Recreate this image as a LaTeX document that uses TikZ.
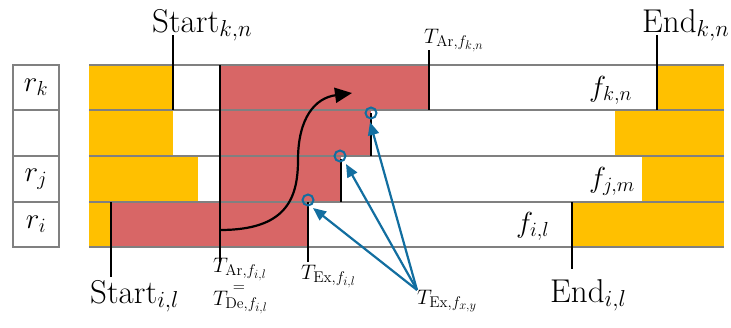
\documentclass[tikz,border=0pt]{standalone}
\usepackage{fix-cm}
\usetikzlibrary{arrows.meta}
\DeclareMathSizes{21}{21}{15.5}{12.5}
\definecolor{flowred}{RGB}{216,102,102}
\definecolor{busyyellow}{RGB}{255,192,0}
\definecolor{rowgray}{RGB}{128,128,128}
\definecolor{exblue}{RGB}{18,110,160}
\begin{document}
\begin{tikzpicture}[x=1pt,y=-1pt,
    grid/.style={draw=rowgray,line width=2pt},
    tick/.style={line width=2.4pt},
    big/.style={font=\fontsize{29}{30}\selectfont,inner sep=0pt},
    huge/.style={font=\fontsize{33}{36}\selectfont,inner sep=0pt},
    small/.style={font=\fontsize{21}{12}\selectfont,inner sep=0pt},
    pointer/.style={draw=exblue,line width=2.2pt,-{Triangle[length=13pt,width=11pt]}},
    ring/.style={draw=exblue,line width=2pt}]
    \useasboundingbox (0,0) rectangle (731,327);

    % belegung der ressourcen
    \foreach \ya/\yb/\ye/\ra/\rb/\yc in {65/110/173/220/429/657, 110/156/173/220/371/615,
        156/202/198/220/341/642, 202/247/111/111/308/572} {
        \fill[busyyellow] (89,\ya) rectangle (\ye,\yb);
        \fill[flowred] (\ra,\ya) rectangle (\rb,\yb);
        \fill[busyyellow] (\yc,\ya) rectangle (724,\yb);
    }

    % zeilen
    \foreach \y in {65,110,156,202,247}
        \draw[grid] (89,\y) -- (724,\y);

    % ressourcen links
    \foreach \ya/\yb/\lab/\name in {65/110/r_k/rk, 110/156/{}/rx, 156/202/r_j/rj, 202/247/r_i/ri}
        \draw[grid] (13,\ya) rectangle (59,\yb) node[midway,big] (\name) {$\lab$};

    % zeitpunkte oben
    \coordinate (skTop) at (173,35); \coordinate (skBot) at (173,110);
    \coordinate (ekTop) at (657,35); \coordinate (ekBot) at (657,110);
    \coordinate (akTop) at (429,50); \coordinate (akBot) at (429,110);
    \draw[tick] (skTop) -- (skBot);
    \draw[tick] (ekTop) -- (ekBot);
    \draw[tick] (akTop) -- (akBot);
    \node[huge,anchor=base west] (startk) at (152,32) {Start$_{k,n}$};
    \node[huge,anchor=base west] (endk) at (642,32) {End$_{k,n}$};
    \node[small,anchor=base west] (arrk) at (424,43) {$T_{\mathrm{Ar},f_{k,n}}$};

    % zeitpunkte unten
    \coordinate (aiTop) at (220,65); \coordinate (aiBot) at (220,262);
    \coordinate (siTop) at (111,202); \coordinate (siBot) at (111,277);
    \coordinate (xiTop) at (308,202); \coordinate (xiBot) at (308,262);
    \coordinate (eiTop) at (572,202); \coordinate (eiBot) at (572,269);
    \draw[tick] (aiTop) -- (aiBot);
    \draw[tick] (siTop) -- (siBot);
    \draw[tick] (xiTop) -- (xiBot);
    \draw[tick] (eiTop) -- (eiBot);
    \coordinate (x2Top) at (371,113); \coordinate (x2Bot) at (371,156);
    \coordinate (xjTop) at (341,159); \coordinate (xjBot) at (341,202);
    \draw[tick] (x2Top) -- (x2Bot);
    \draw[tick] (xjTop) -- (xjBot);
    \node[huge,anchor=base west] (starti) at (90,303) {Start$_{i,l}$};
    \node[huge,anchor=base west] (endi) at (550,302) {End$_{i,l}$};
    \node[small,anchor=base west] (arri) at (213,272) {$T_{\mathrm{Ar},f_{i,l}}$};
    \node[font=\fontsize{16}{16}\selectfont,inner sep=0pt] (same) at (239,288.5) {$=$};
    \node[small,anchor=base west] (dei) at (213,305) {$T_{\mathrm{De},f_{i,l}}$};
    \node[small,anchor=base west] (exi) at (301,279) {$T_{\mathrm{Ex},f_{i,l}}$};
    \node[small,anchor=base west] (exxy) at (417,304) {$T_{\mathrm{Ex},f_{x,y}}$};

    % fluesse
    \node[big,anchor=base west] (fk) at (589,96) {$f_{k,n}$};
    \node[big,anchor=base west] (fj) at (589,187) {$f_{j,m}$};
    \node[big,anchor=base west] (fi) at (516,232) {$f_{i,l}$};

    % weitergabe
    \coordinate (curveFrom) at (220,230);
    \coordinate (curveTo) at (352,93);
    \draw[line width=2.2pt,-{Triangle[length=17pt,width=15pt]}] (curveFrom)
        .. controls (285,230) and (298,200) .. (298,160)
        .. controls (298,118) and (315,98) .. (curveTo);

    % ausfuehrung
    \coordinate (exFrom) at (417,290);
    \draw[ring] (x2Top) circle (5.5);
    \draw[ring] (340,156) circle (5.5);
    \draw[ring] (308,200) circle (5.5);
    \draw[pointer] (exFrom) -- (370,122);
    \draw[pointer] (exFrom) -- (346,164);
    \draw[pointer] (exFrom) -- (313,208);
\end{tikzpicture}
\end{document}
